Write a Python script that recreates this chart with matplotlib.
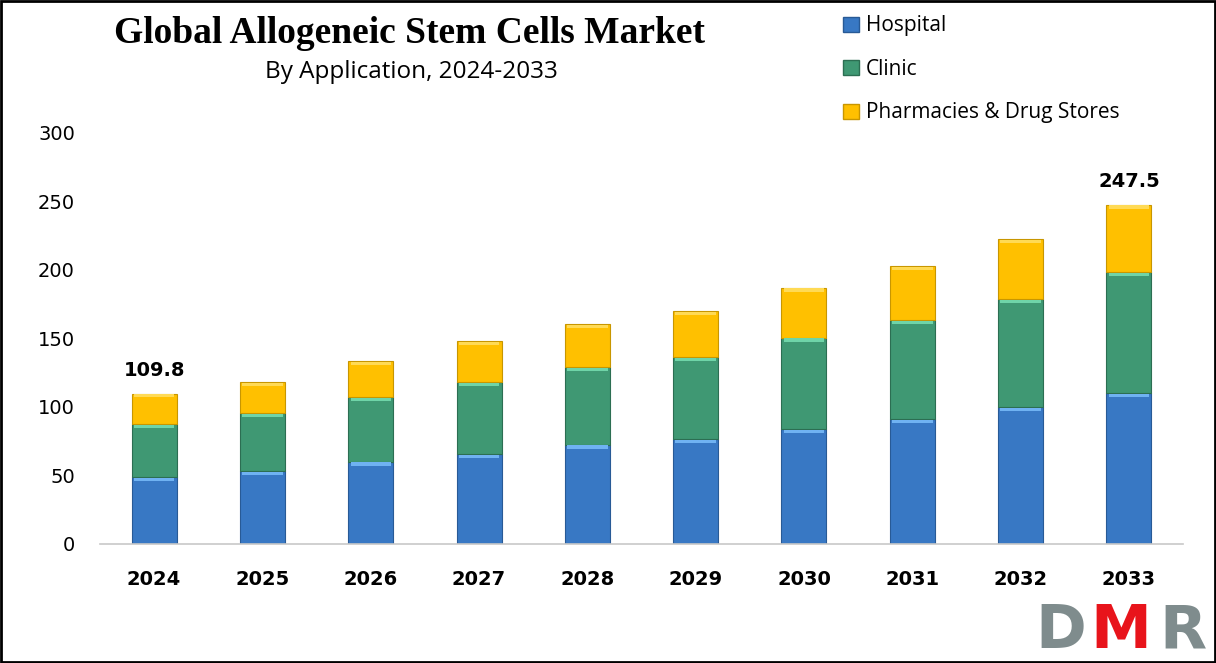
import numpy as np
import matplotlib.pyplot as plt
from matplotlib.patches import Rectangle

# ==============================================================================
# DATA
# ==============================================================================

years = ["2024", "2025", "2026", "2027", "2028", "2029", "2030", "2031", "2032", "2033"]
hospital = [48.9, 53.3, 59.9, 65.7, 72.3, 76.6, 83.9, 91.2, 100.0, 110.2]
clinic = [38.7, 42.3, 47.4, 52.3, 56.9, 59.9, 66.5, 72.3, 78.8, 88.3]
pharmacies = [22.2, 22.6, 26.3, 30.0, 31.4, 33.5, 36.5, 39.4, 43.8, 49.0]
series_names = ["Hospital", "Clinic", "Pharmacies & Drug Stores"]
total_labels = {0: "109.8", 9: "247.5"}

colors = ["#3878C4", "#3F9873", "#FFC000"]
bevel = ["#6FB2F2", "#6FD4A8", "#FFDA55"]
edges = ["#285A96", "#2C6E52", "#C89600"]

# ==============================================================================
# FIGURE
# ==============================================================================

fig = plt.figure(figsize=(12.16, 6.63), dpi=100)
ax = fig.add_axes([0.0822, 0.1795, 0.8907, 0.6199])

x = np.arange(len(years))
width = 0.415
bottom = np.zeros(len(years))
for vals, c, bc, ec in zip([hospital, clinic, pharmacies], colors, bevel, edges):
    vals = np.array(vals)
    ax.bar(x, vals, width, bottom=bottom, color=c, edgecolor=ec, linewidth=0.8, zorder=2)
    # light bevel strip at the top of each segment
    ax.bar(x, np.full(len(x), 2.4), width * 0.9, bottom=bottom + vals - 2.8,
           color=bc, linewidth=0, zorder=3)
    bottom = bottom + vals

for i, txt in total_labels.items():
    ax.text(x[i], bottom[i] + 10, txt, ha="center", va="bottom",
            fontsize=14, fontweight="bold", family="DejaVu Sans")

ax.set_xlim(-0.5, len(years) - 0.5)
ax.set_ylim(0, 300)
ax.set_yticks(np.arange(0, 301, 50))
ax.set_xticks(x)
ax.set_xticklabels(years, fontweight="bold", fontsize=14)
ax.tick_params(axis="y", labelsize=14, length=0, pad=18)
ax.tick_params(axis="x", length=0, pad=19)
for s in ["top", "right", "left"]:
    ax.spines[s].set_visible(False)
ax.spines["bottom"].set_color("#C8C8C8")
ax.spines["bottom"].set_linewidth(1.2)

# titles
fig.text(0.337, 0.950, "Global Allogeneic Stem Cells Market", ha="center", va="center",
         fontsize=27, fontweight="bold", family="Liberation Serif")
fig.text(0.338, 0.891, "By Application, 2024-2033", ha="center", va="center",
         fontsize=17.5, family="Open Sans")

# legend
handles = [Rectangle((0, 0), 1, 1, facecolor=c, edgecolor=ec) for c, ec in zip(colors, edges)]
fig.legend(handles, series_names, loc="upper left", bbox_to_anchor=(0.678, 1.005),
           frameon=False, prop={"family": "Open Sans", "size": 15},
           handlelength=0.75, handleheight=0.75, handletextpad=0.35, labelspacing=1.08)

# logo
for letter, xpos, col in [("D", 0.872, "#7F8C8D"), ("M", 0.922, "#E8141B"), ("R", 0.973, "#7F8C8D")]:
    fig.text(xpos, 0.022, letter, color=col, fontsize=44, fontweight="bold",
             family="DejaVu Sans", ha="center", va="baseline")

# border
fig.patches.append(Rectangle((0.001, 0.002), 0.998, 0.996, transform=fig.transFigure,
                             fill=False, edgecolor="black", linewidth=2))

fig.savefig("out.png", dpi=100)
